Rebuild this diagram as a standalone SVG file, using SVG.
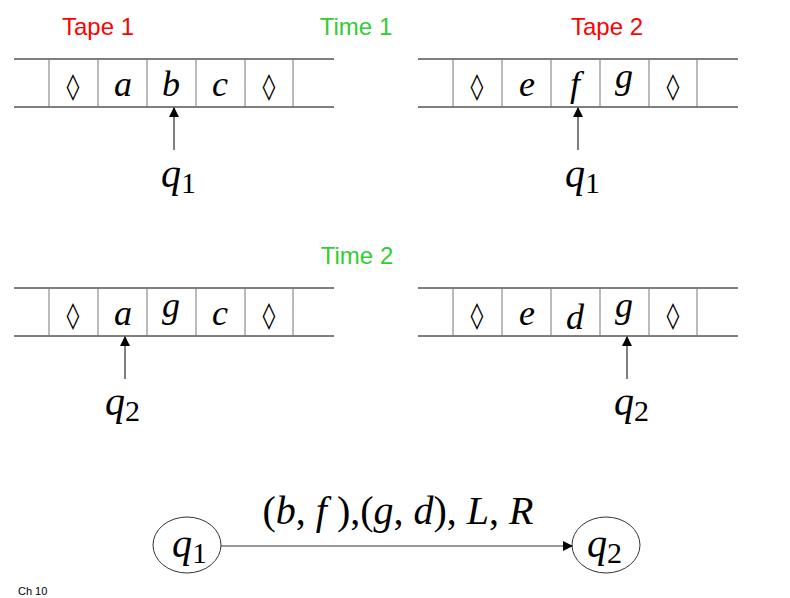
<svg xmlns="http://www.w3.org/2000/svg" width="790" height="598" viewBox="0 0 790 598">
<style>
.t{stroke:#000;stroke-width:1;fill:none}
.d{stroke:#777;stroke-width:1}
.s{font-family:"Liberation Serif",serif;font-style:italic;font-size:36px;text-anchor:middle}
.dm{font-family:"DejaVu Sans",sans-serif;font-size:26px;text-anchor:middle}
.q{font-family:"Liberation Serif",serif;font-style:italic;font-size:40px}
.sub{font-style:normal;font-size:30px}
.h{font-family:"Liberation Sans",Arial,sans-serif;font-size:24px;text-anchor:middle}
</style>
<defs>
<marker id="ah" markerWidth="10" markerHeight="10" refX="9" refY="5" orient="auto" markerUnits="userSpaceOnUse"><path d="M0,0 L10,5 L0,10 z"/></marker>
<g id="tape"><path class="t" d="M14,0 H334 M14,48 H334"/><path class="d" d="M49,0 V48 M98,0 V48 M147,0 V48 M196,0 V48 M245,0 V48 M293,0 V48"/></g>
</defs>
<text class="h" x="98" y="35" fill="#ff0000">Tape 1</text>
<text class="h" x="356" y="35" fill="#33cc33">Time 1</text>
<text class="h" x="607" y="35" fill="#ff0000">Tape 2</text>
<text class="h" x="357" y="264" fill="#33cc33">Time 2</text>
<g id="tape1a"><use href="#tape" y="59"/>
<text class="dm" x="73" y="95">◊</text><text class="s" x="123" y="96">a</text><text class="s" x="171" y="96">b</text><text class="s" x="220" y="96">c</text><text class="dm" x="269" y="95">◊</text></g>
<g id="tape2a"><use href="#tape" x="404" y="59"/>
<text class="dm" x="477" y="95">◊</text><text class="s" x="527" y="96">e</text><text class="s" x="575" y="96">f</text><text class="s" x="624" y="88">g</text><text class="dm" x="673" y="95">◊</text></g>
<g id="tape1b"><use href="#tape" y="288"/>
<text class="dm" x="73" y="324">◊</text><text class="s" x="123" y="325">a</text><text class="s" x="171" y="317">g</text><text class="s" x="220" y="325">c</text><text class="dm" x="269" y="324">◊</text></g>
<g id="tape2b"><use href="#tape" x="404" y="288"/>
<text class="dm" x="477" y="324">◊</text><text class="s" x="527" y="325">e</text><text class="s" x="575" y="329">d</text><text class="s" x="624" y="317">g</text><text class="dm" x="673" y="324">◊</text></g>
<g id="heads" stroke="#000">
<line x1="174" y1="150" x2="174" y2="108" marker-end="url(#ah)"/>
<line x1="578" y1="150" x2="578" y2="108" marker-end="url(#ah)"/>
<line x1="125" y1="379" x2="125" y2="337" marker-end="url(#ah)"/>
<line x1="627" y1="379" x2="627" y2="337" marker-end="url(#ah)"/>
</g>
<text class="q" x="161" y="187">q<tspan class="sub" dy="6">1</tspan></text>
<text class="q" x="565" y="187">q<tspan class="sub" dy="6">1</tspan></text>
<text class="q" x="105" y="415">q<tspan class="sub" dy="6">2</tspan></text>
<text class="q" x="614" y="415">q<tspan class="sub" dy="6">2</tspan></text>
<g id="s1"><ellipse cx="187" cy="545" rx="34" ry="28" fill="none" stroke="#333"/><text class="q" x="172" y="557">q<tspan class="sub" dy="6">1</tspan></text></g>
<g id="s2"><ellipse cx="606" cy="545" rx="34" ry="28" fill="none" stroke="#333"/><text class="q" x="587" y="557">q<tspan class="sub" dy="6">2</tspan></text></g>
<g id="edges"><line x1="221" y1="546" x2="572" y2="546" stroke="#333" marker-end="url(#ah)"/>
<text class="q" x="398" y="524" text-anchor="middle" font-size="36"><tspan font-style="normal">(</tspan>b<tspan font-style="normal">, </tspan>f<tspan font-style="normal"> ),(</tspan>g<tspan font-style="normal">, </tspan>d<tspan font-style="normal">), </tspan>L<tspan font-style="normal">, </tspan>R</text></g>
<text x="18" y="595" font-family="Liberation Sans,sans-serif" font-size="11">Ch 10</text>
</svg>
